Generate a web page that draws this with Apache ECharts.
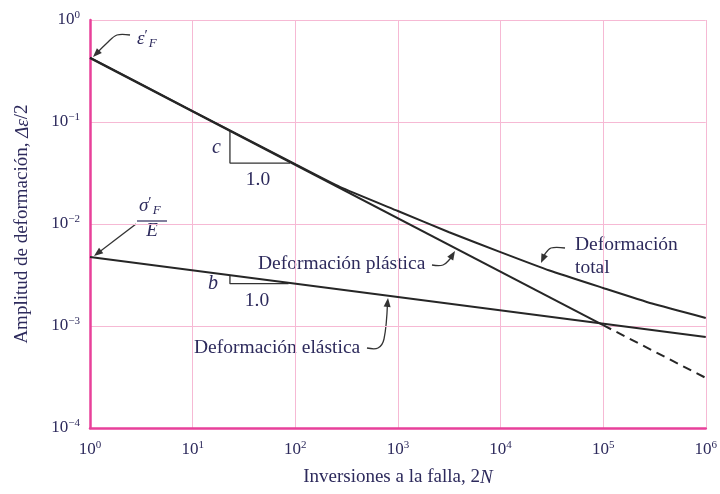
<!DOCTYPE html>
<html><head><meta charset="utf-8">
<script src="https://cdn.jsdelivr.net/npm/echarts@6/dist/echarts.min.js"></script>
<style>html,body{margin:0;padding:0;background:#fff}#c{width:720px;height:494px}</style>
</head><body><div id="c"></div>
<script>
// ---- data ----
const xTickExponents = [0, 1, 2, 3, 4, 5, 6];
const yTickExponents = [-4, -3, -2, -1, 0];
const plasticN = [1, 100000];
const plasticAmp = [0.424, 0.00102];
const plasticExtN = [100000, 1000000];
const plasticExtAmp = [0.00102, 0.00031];
const elasticN = [1, 1000000];
const elasticAmp = [0.00475, 0.00078];
const totalN = [1, 10, 100, 272, 1000, 3160, 10000, 30000, 100000, 300000, 1000000];
const totalAmp = [0.428, 0.128, 0.0386, 0.0231, 0.0134, 0.0083, 0.0053, 0.0035, 0.00236, 0.00166, 0.0012];
const slopeCN = [23.1, 23.1, 89];
const slopeCAmp = [0.082, 0.0396, 0.0396];
const slopeBN = [23.1, 23.1, 86];
const slopeBAmp = [0.00315, 0.0026, 0.0026];

const zip = (a, b) => a.map((v, i) => [v, b[i]]);
const TXT = '#2d2a5c';
const FONT = '"Liberation Serif", "DejaVu Serif", serif';
const LINE = '#262626';

function expLabel(v, exps) {
  const e = Math.round(Math.log10(v));
  if (exps.indexOf(e) < 0) return '';
  return '{b|10}{s|' + (e < 0 ? '\u2212' + (-e) : e) + '}';
}
const tickRich = {
  b: { fontSize: 17, fontFamily: FONT, color: TXT },
  s: { fontSize: 11, fontFamily: FONT, color: TXT, padding: [0, 0, 9, 0] }
};

const chart = echarts.init(document.getElementById('c'), null, { renderer: 'canvas' });

function arrow(pts) {
  const n = pts.length;
  const tip = pts[n - 1], prev = pts[n - 2];
  const dx = tip[0] - prev[0], dy = tip[1] - prev[1];
  const L = Math.hypot(dx, dy), ux = dx / L, uy = dy / L;
  const len = 9, hw = 3.5;
  const bx = tip[0] - ux * len, by = tip[1] - uy * len;
  const head = [tip, [bx - uy * hw, by + ux * hw], [bx + uy * hw, by - ux * hw]];
  const body = pts.slice(0, n - 1).concat([[tip[0] - ux * 5, tip[1] - uy * 5]]);
  return [
    { type: 'polyline', shape: { points: body, smooth: 0.35 }, style: { stroke: '#333', lineWidth: 1.3, fill: null }, silent: true },
    { type: 'polygon', shape: { points: head }, style: { fill: '#333' }, silent: true }
  ];
}
function txt(x, y, text, rich, extra) {
  return {
    type: 'text', x: x, y: y, silent: true,
    style: Object.assign({ text: text, fill: TXT, font: '19.5px ' + FONT, verticalAlign: 'middle', align: 'left', rich: rich || {} }, extra || {})
  };
}
const symRich = {
  e: { fontStyle: 'italic', fontSize: 19, fontFamily: FONT, color: TXT },
  p: { fontSize: 15, fontFamily: FONT, color: TXT, padding: [0, 1, 6, 0] },
  f: { fontStyle: 'italic', fontSize: 13, fontFamily: FONT, color: TXT, padding: [9, 0, 0, 0] }
};

const graphics = [].concat(
  arrow([[130, 35], [117, 35], [107, 43], [93, 57]]),
  arrow([[136, 224], [94, 256]]),
  arrow([[432, 265], [443, 265], [450, 259], [455, 251]]),
  arrow([[367, 348], [378, 348], [384, 339], [388, 298]]),
  arrow([[565, 248], [551, 248], [545, 254], [541, 263]]),
  [
    txt(137, 39, '{e|\u03b5}{p|\u2032}{f|F}', symRich),
    txt(139, 206, '{e|\u03c3}{p|\u2032}{f|F}', symRich),
    { type: 'line', shape: { x1: 137, y1: 221, x2: 167, y2: 221 }, style: { stroke: TXT, lineWidth: 1.2 }, silent: true },
    txt(152, 231, 'E', null, { font: 'italic 19px ' + FONT, align: 'center' }),
    txt(212, 148, 'c', null, { font: 'italic 20px ' + FONT }),
    txt(258, 180, '1.0', null, { align: 'center' }),
    txt(208, 284, 'b', null, { font: 'italic 20px ' + FONT }),
    txt(257, 301, '1.0', null, { align: 'center' }),
    txt(258, 264, 'Deformación plástica'),
    txt(194, 348, 'Deformación elástica'),
    txt(575, 245, 'Deformación'),
    txt(575, 268, 'total')
  ]
);

const lineStyle = { color: LINE, width: 2 };
const nameStyle = { fontFamily: FONT, fontSize: 19, color: TXT, rich: { i: { fontStyle: 'italic', fontFamily: FONT, fontSize: 19, color: TXT } } };
const option = {
  animation: false,
  backgroundColor: '#fff',
  grid: { left: 90, right: 14, top: 20, bottom: 66 },
  xAxis: {
    type: 'log', logBase: 10, min: 1, max: 1000000,
    name: 'Inversiones a la falla, 2{i|N}', nameLocation: 'middle', nameGap: 40,
    nameTextStyle: nameStyle,
    axisLine: { show: true, lineStyle: { color: '#e8409a', width: 2.5 } },
    axisTick: { show: false },
    minorTick: { show: false },
    splitLine: { show: true, lineStyle: { color: '#f6b9d4', width: 1 } },
    axisLabel: { margin: 12, formatter: v => expLabel(v, xTickExponents), rich: tickRich }
  },
  yAxis: {
    type: 'log', logBase: 10, min: 0.0001, max: 1,
    name: 'Amplitud de deformación, {i|\u0394\u03b5}/2', nameLocation: 'middle', nameGap: 58,
    nameTextStyle: nameStyle,
    axisLine: { show: true, lineStyle: { color: '#e8409a', width: 2.5 } },
    axisTick: { show: false },
    splitLine: { show: true, lineStyle: { color: '#f6b9d4', width: 1 } },
    axisLabel: { margin: 10, formatter: v => expLabel(v, yTickExponents), rich: tickRich }
  },
  series: [
    { type: 'line', name: 'plástica', data: zip(plasticN, plasticAmp), showSymbol: false, lineStyle: lineStyle, z: 5 },
    { type: 'line', name: 'plástica ext', data: zip(plasticExtN, plasticExtAmp), showSymbol: false, lineStyle: { color: LINE, width: 2, type: [9, 6] }, z: 5 },
    { type: 'line', name: 'elástica', data: zip(elasticN, elasticAmp), showSymbol: false, lineStyle: lineStyle, z: 5 },
    { type: 'line', name: 'total', data: zip(totalN, totalAmp), showSymbol: false, smooth: 0.15, lineStyle: lineStyle, z: 5 },
    { type: 'line', name: 'c', data: zip(slopeCN, slopeCAmp), showSymbol: false, lineStyle: { color: '#333', width: 1.3 }, z: 4 },
    { type: 'line', name: 'b', data: zip(slopeBN, slopeBAmp), showSymbol: false, lineStyle: { color: '#333', width: 1.3 }, z: 4 }
  ],
  graphic: graphics
};
chart.setOption(option);
</script></body></html>
